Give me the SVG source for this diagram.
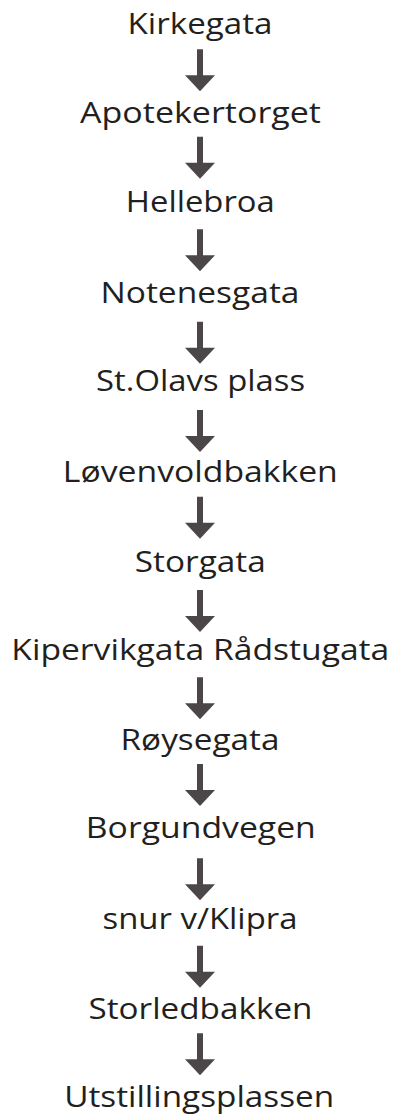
<svg xmlns="http://www.w3.org/2000/svg" width="393" height="1115" viewBox="0 0 393 1115">
<defs>
<style>
.lbl{font-family:"Open Sans","Noto Sans","Liberation Sans",sans-serif;font-size:29px;fill:#231f20;text-anchor:middle}
.arr{fill:#4b4748}
</style>
<path id="arrow" d="M197,0 H203 V26 H215 L200,42 L185,26 H197 Z"/>
</defs>
<rect width="393" height="1115" fill="#ffffff"/>
<g id="n1"><text class="lbl" x="200" y="34.3" textLength="145" lengthAdjust="spacingAndGlyphs">Kirkegata</text></g>
<g id="n2"><text class="lbl" x="200.5" y="122.7" textLength="241" lengthAdjust="spacingAndGlyphs">Apotekertorget</text></g>
<g id="n3"><text class="lbl" x="200.3" y="212.3" textLength="149" lengthAdjust="spacingAndGlyphs">Hellebroa</text></g>
<g id="n4"><text class="lbl" x="200" y="302.5" textLength="199" lengthAdjust="spacingAndGlyphs">Notenesgata</text></g>
<g id="n5"><text class="lbl" x="200.6" y="391" textLength="209" lengthAdjust="spacingAndGlyphs">St.Olavs plass</text></g>
<g id="n6"><text class="lbl" x="200.3" y="481.7" textLength="275" lengthAdjust="spacingAndGlyphs">Løvenvoldbakken</text></g>
<g id="n7"><text class="lbl" x="200.3" y="571.7" textLength="131" lengthAdjust="spacingAndGlyphs">Storgata</text></g>
<g id="n8"><text class="lbl" x="200.3" y="660" textLength="378" lengthAdjust="spacingAndGlyphs">Kipervikgata Rådstugata</text></g>
<g id="n9"><text class="lbl" x="200" y="750" textLength="159" lengthAdjust="spacingAndGlyphs">Røysegata</text></g>
<g id="n10"><text class="lbl" x="200.8" y="838.3" textLength="230" lengthAdjust="spacingAndGlyphs">Borgundvegen</text></g>
<g id="n11"><text class="lbl" x="200" y="929.3" textLength="195" lengthAdjust="spacingAndGlyphs">snur v/Klipra</text></g>
<g id="n12"><text class="lbl" x="200.5" y="1019" textLength="224" lengthAdjust="spacingAndGlyphs">Storledbakken</text></g>
<g id="n13"><text class="lbl" x="199.2" y="1107" textLength="270" lengthAdjust="spacingAndGlyphs">Utstillingsplassen</text></g>
<g id="connectors" class="arr">
<use href="#arrow" y="49.3"/>
<use href="#arrow" y="136.7"/>
<use href="#arrow" y="229.3"/>
<use href="#arrow" y="321.7"/>
<use href="#arrow" y="410"/>
<use href="#arrow" y="496.7"/>
<use href="#arrow" y="590"/>
<use href="#arrow" y="677.3"/>
<use href="#arrow" y="764"/>
<use href="#arrow" y="858.3"/>
<use href="#arrow" y="945.7"/>
<use href="#arrow" y="1033.3"/>
</g>
</svg>
